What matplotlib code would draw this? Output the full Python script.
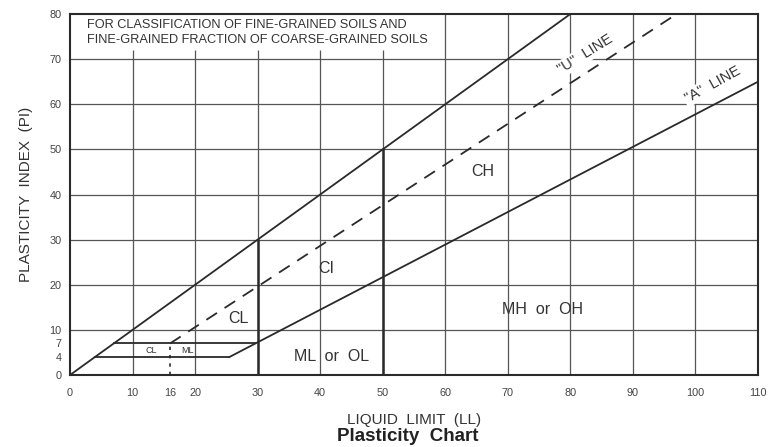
import matplotlib
matplotlib.use("Agg")
import matplotlib.pyplot as plt

plt.rcParams['font.family'] = ['Liberation Sans', 'DejaVu Sans']

# ---- data ----
ll_ticks = [0, 10, 16, 20, 30, 40, 50, 60, 70, 80, 90, 100, 110]
pi_ticks = [0, 4, 7, 10, 20, 30, 40, 50, 60, 70, 80]

grid_x_short = [10, 20, 30, 40, 50]  # vertical grid lines stopping below the note
grid_x_long = [60, 70, 80, 90, 100]  # vertical grid lines reaching the top
grid_y = [10, 20, 30, 40, 50, 60, 70]

upper_ll = [0, 80]
upper_pi = [0, 80]
u_ll = [16, 97]
u_pi = [7, 80]
a_ll = [25.5, 110]
a_pi = [4, 65]
ll_limits = [30, 50]
ll_limit_tops = [30, 50]
band_pi = [4, 7]
band_start = [4, 7]
band_end = [25.5, 29.6]
clml_ll = 16

zones = ["CL", "CI", "CH", "ML  or  OL", "MH  or  OH"]
zone_ll = [27, 41, 66, 41.8, 75.5]
zone_pi = [12.5, 23.5, 45, 4.2, 14.5]

note = ("FOR CLASSIFICATION OF FINE-GRAINED SOILS AND\n"
        "FINE-GRAINED FRACTION OF COARSE-GRAINED SOILS")

line_col = "#2a2a2a"
grid_col = "#555555"
text_col = "#333333"

fig = plt.figure(figsize=(7.81, 4.47), dpi=100)
ax = fig.add_axes([0.0896, 0.161, 0.8810, 0.8077])
ax.set_xlim(0, 110)
ax.set_ylim(0, 80)

# grid
ax.vlines(grid_x_short, 0, 72, color=grid_col, lw=0.9)
ax.vlines(grid_x_long, 0, 80, color=grid_col, lw=0.9)
ax.hlines(grid_y, 0, 110, color=grid_col, lw=0.9)

# classification lines
ax.plot(upper_ll, upper_pi, color=line_col, lw=1.3)
ax.plot(u_ll, u_pi, color=line_col, lw=1.3, ls=(0, (7, 5)))
ax.plot(a_ll, a_pi, color=line_col, lw=1.3)
for x, top in zip(ll_limits, ll_limit_tops):
    ax.plot([x, x], [0, top], color=line_col, lw=1.8)
for y, s, e in zip(band_pi, band_start, band_end):
    ax.plot([s, e], [y, y], color=line_col, lw=1.3)
ax.plot([clml_ll, clml_ll], [0, 7], color=line_col, lw=1.2, ls=(0, (2, 3)))

# labels
for name, x, y in zip(zones, zone_ll, zone_pi):
    ax.text(x, y, name, ha="center", va="center", fontsize=11.5, color=text_col)
ax.text(13.0, 5.5, "CL", ha="center", va="center", fontsize=6.5, color=text_col)
ax.text(18.8, 5.5, "ML", ha="center", va="center", fontsize=6.5, color=text_col)
ax.text(82.3, 71.0, '"U"  LINE', rotation=32, ha="center", va="center",
        fontsize=10.5, color=text_col,
        bbox=dict(facecolor="white", edgecolor="none", pad=1))
ax.text(102.7, 64.3, '"A"  LINE', rotation=29, ha="center", va="center",
        fontsize=10.5, color=text_col,
        bbox=dict(facecolor="white", edgecolor="none", pad=1))
ax.text(2.7, 78.8, note, ha="left", va="top", fontsize=9.2, color=text_col,
        linespacing=1.3)

# axes styling
for sp in ax.spines.values():
    sp.set_color(line_col)
    sp.set_linewidth(1.5)
ax.set_xticks(ll_ticks)
ax.set_xticklabels([str(v) for v in ll_ticks])
ax.set_yticks(pi_ticks)
ax.set_yticklabels([str(v) for v in pi_ticks])
ax.tick_params(length=0, labelsize=7.8, labelcolor="#444444")
ax.tick_params(axis="x", pad=9)
ax.tick_params(axis="y", pad=6)

ax.set_xlabel("LIQUID  LIMIT  (LL)", fontsize=11, color=text_col, labelpad=11)
ax.set_ylabel("PLASTICITY  INDEX  (PI)", fontsize=11, color=text_col, labelpad=12)
fig.text(0.522, 0.004, "Plasticity  Chart", ha="center", va="bottom",
         fontsize=13.5, fontweight="bold", color="#222222")

fig.savefig("out.png", dpi=100, facecolor="white")
